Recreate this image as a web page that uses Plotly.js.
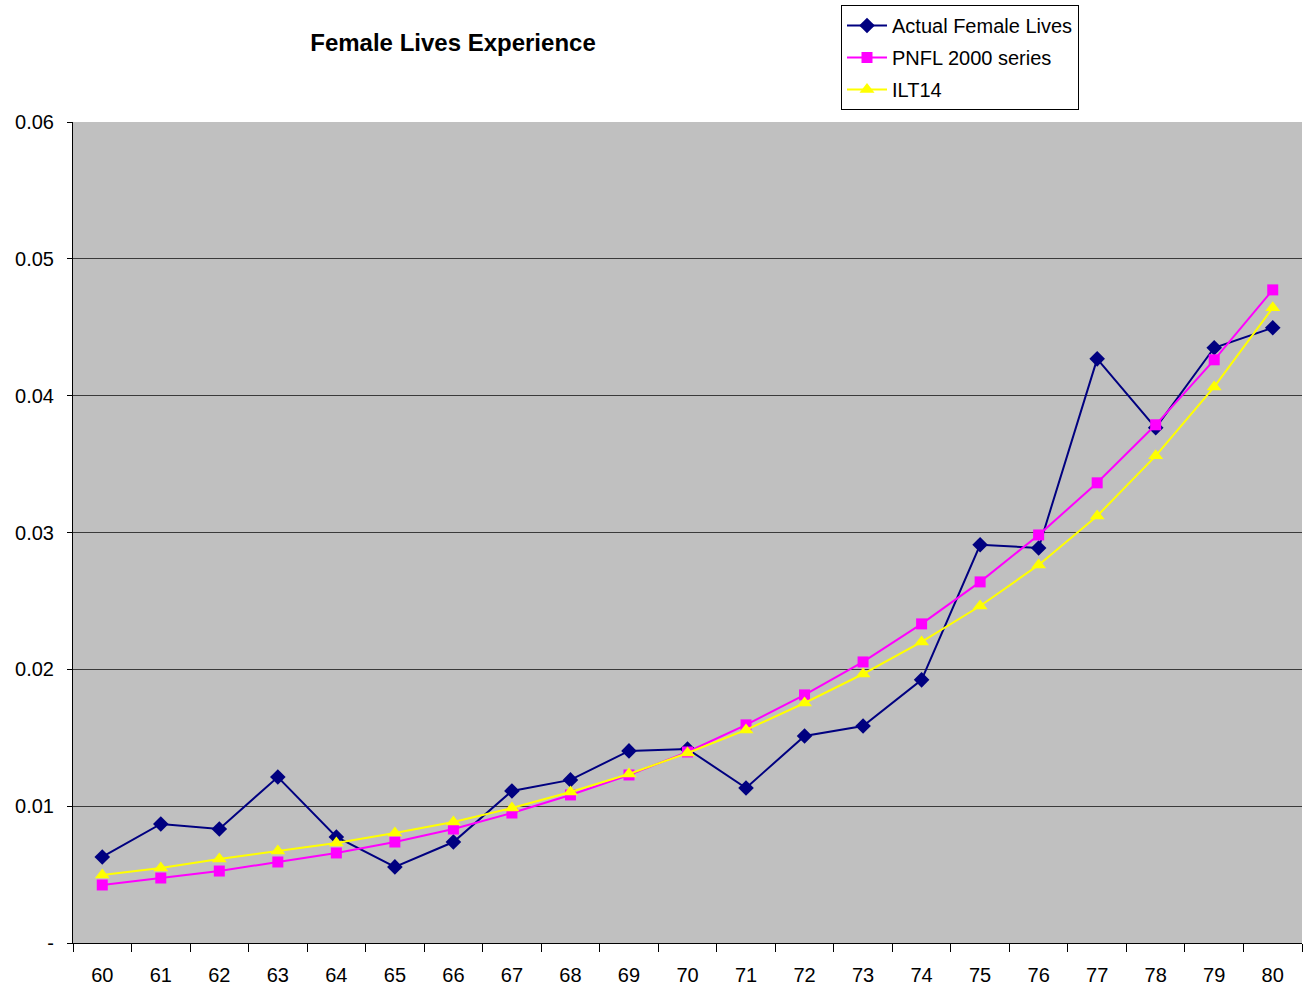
<!DOCTYPE html>
<html>
<head>
<meta charset="utf-8">
<script src="https://cdn.plot.ly/plotly-3.0.1.min.js"></script>
<style>html,body{margin:0;padding:0;background:#fff;}#chart{width:1305px;height:989px;}</style>
</head>
<body>
<div id="chart"></div>
<script>
const ages = ["60","61","62","63","64","65","66","67","68","69","70","71","72","73","74","75","76","77","78","79","80"];
const actualFemale = [0.00629,0.0087,0.00833,0.01213,0.00775,0.00556,0.00738,0.01111,0.01192,0.01404,0.01418,0.01133,0.01513,0.01586,0.01923,0.0291,0.02887,0.04269,0.03765,0.0435,0.04496];
const pnfl2000 = [0.00424,0.00475,0.00526,0.00592,0.00658,0.00738,0.00833,0.0095,0.01082,0.01228,0.01396,0.01594,0.01813,0.02054,0.02332,0.02639,0.02982,0.03363,0.03787,0.04262,0.04773];
const ilt14 = [0.00497,0.00548,0.00614,0.00673,0.00731,0.00804,0.00885,0.00987,0.01104,0.01235,0.01389,0.01557,0.01754,0.01966,0.022,0.02463,0.02763,0.03121,0.0356,0.04064,0.04642];
const yTickVals = [0,0.01,0.02,0.03,0.04,0.05,0.06];
const yTickText = ["-","0.01","0.02","0.03","0.04","0.05","0.06"];

const font = "Liberation Sans, Arial, sans-serif";
const traces = [
  {x: ages, y: actualFemale, name: "Actual Female Lives", legendgroup: "a", type: "scatter", mode: "lines+markers",
   line: {color: "#000080", width: 2}, marker: {symbol: "diamond", size: 12, color: "#000080"}},
  {x: ages, y: pnfl2000, name: "PNFL 2000 series", legendgroup: "b", type: "scatter", mode: "lines+markers",
   line: {color: "#FF00FF", width: 2}, marker: {symbol: "square", size: 11, color: "#FF00FF"}},
  {x: ages, y: ilt14, name: "ILT14", legendgroup: "c", type: "scatter", mode: "lines+markers",
   line: {color: "#FFFF00", width: 2}, marker: {symbol: "triangle-up", size: 13, color: "#FFFF00"}}
];
const layout = {
  width: 1305, height: 989,
  margin: {l: 73, r: 3, t: 122, b: 46},
  paper_bgcolor: "#FFFFFF", plot_bgcolor: "#C0C0C0",
  font: {family: font, size: 20, color: "#000"},
  title: {text: "<b>Female Lives Experience</b>", font: {family: font, size: 24, color: "#000"},
          x: 453/1305, xanchor: "center", xref: "container", y: 1 - 43/989, yanchor: "middle", yref: "container"},
  showlegend: true,
  legend: {x: (841-73)/1229, y: (943-5)/821, xanchor: "left", yanchor: "top",
           bgcolor: "#FFFFFF", bordercolor: "#000", borderwidth: 1,
           font: {family: font, size: 20}, tracegroupgap: 3, itemwidth: 40},
  xaxis: {type: "category", range: [-0.5, 20.5], tickson: "boundaries", ticks: "outside", ticklen: 8, tickcolor: "#000",
          showline: true, linecolor: "#000", linewidth: 1, showgrid: false, zeroline: false,
          tickfont: {family: font, size: 20}, ticklabelstandoff: 14},
  yaxis: {range: [0, 0.06], tickvals: yTickVals, ticktext: yTickText, ticks: "outside", ticklen: 5,
          tickcolor: "#000", showline: true, linecolor: "#000", linewidth: 1,
          showgrid: true, gridcolor: "#3a3a3a", gridwidth: 1, zeroline: false,
          tickfont: {family: font, size: 20}, ticklabelstandoff: 9}
};
Plotly.newPlot("chart", traces, layout, {displayModeBar: false});
</script>
</body>
</html>
